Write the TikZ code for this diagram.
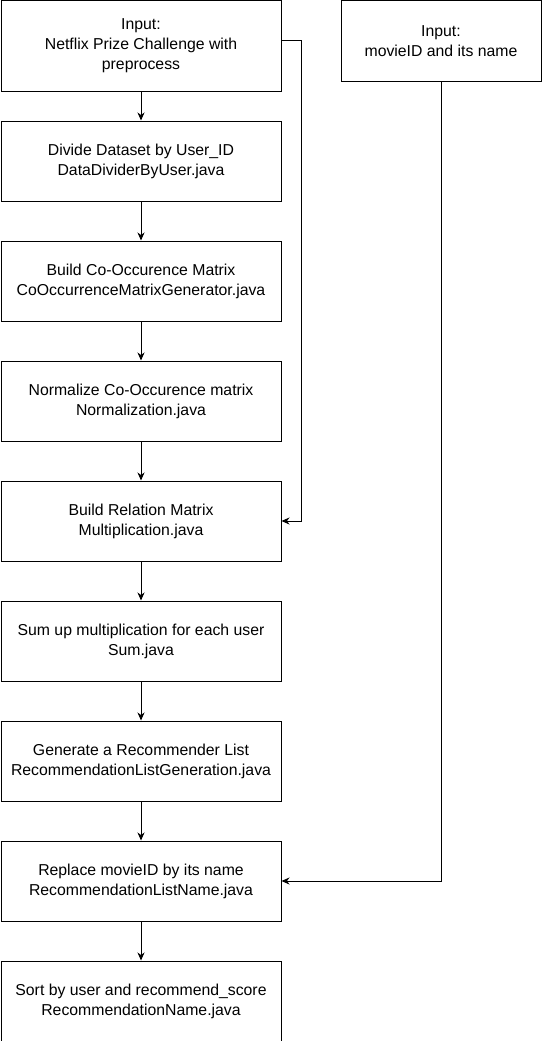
\documentclass[tikz,border=0pt]{standalone}
\usepackage{fontspec}
\setmainfont{Liberation Sans}
\usetikzlibrary{arrows.meta}
\begin{document}
\begin{tikzpicture}[x=1pt,y=-1pt,
  box/.style={draw=black, line width=1pt, fill=white, anchor=north west,
    minimum width=280pt, minimum height=80pt, inner sep=0pt, align=center,
    font=\fontsize{15.8}{20}\selectfont},
  arr/.style={draw=black, line width=1pt, -{Stealth[length=8pt,width=7pt,inset=2.5pt]}}]
\useasboundingbox (0,0) rectangle (541,1041);
\node[box, minimum height=90pt] (b1) at (0.5,0.5) {Input:\\Netflix Prize Challenge with\\preprocess};
\node[box] (b2) at (0.5,120.5) {Divide Dataset by User\_ID\\DataDividerByUser.java};
\node[box] (b3) at (0.5,240.5) {Build Co-Occurence Matrix\\CoOccurrenceMatrixGenerator.java};
\node[box] (b4) at (0.5,360.5) {Normalize Co-Occurence matrix\\Normalization.java};
\node[box] (b5) at (0.5,480.5) {Build Relation Matrix\\Multiplication.java};
\node[box] (b6) at (0.5,600.5) {Sum up multiplication for each user\\Sum.java};
\node[box] (b7) at (0.5,720.5) {Generate a Recommender List\\RecommendationListGeneration.java};
\node[box] (b8) at (0.5,840.5) {Replace movieID by its name\\RecommendationListName.java};
\node[box] (b9) at (0.5,960.5) {Sort by user and recommend\_score\\RecommendationName.java};
\node[box, minimum width=200pt] (r) at (340.5,0.5) {Input:\\movieID and its name};
\draw[arr] (b1) -- (b2);
\draw[arr] (b2) -- (b3);
\draw[arr] (b3) -- (b4);
\draw[arr] (b4) -- (b5);
\draw[arr] (b5) -- (b6);
\draw[arr] (b6) -- (b7);
\draw[arr] (b7) -- (b8);
\draw[arr] (b8) -- (b9);
\draw[arr] ([yshift=5pt]b1.east) -- ++(20,0) |- (b5.east);
\draw[arr] (r.south) |- (b8.east);
\end{tikzpicture}
\end{document}
